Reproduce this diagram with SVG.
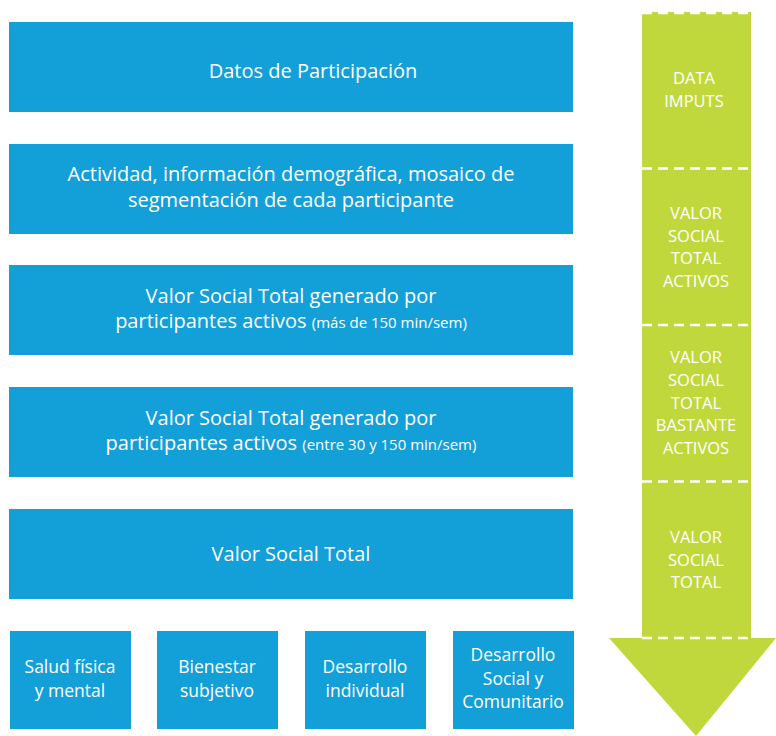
<svg xmlns="http://www.w3.org/2000/svg" width="776" height="736" viewBox="0 0 776 736">
<style>
.box{fill:#139fd8}
.t{fill:#ffffff;font-family:"Open Sans","Liberation Sans",sans-serif;text-anchor:middle}
.m{font-size:20px}
.s{font-size:15px}
.b{font-size:17.5px}
.g{font-size:16.5px}
.dash{stroke:#ffffff;stroke-width:2.5;stroke-dasharray:10 6;fill:none}
</style>
<g id="arrow">
<rect x="642" y="12" width="109" height="627" fill="#c0d83c"/>
<polygon points="609,638 776,638 696,736" fill="#c0d83c"/>
<line class="dash" x1="642" y1="13" x2="751" y2="13"/>
<line class="dash" x1="642" y1="168.5" x2="751" y2="168.5"/>
<line class="dash" x1="642" y1="325" x2="751" y2="325"/>
<line class="dash" x1="642" y1="481.5" x2="751" y2="481.5"/>
<line class="dash" x1="642" y1="638" x2="751" y2="638"/>
<text class="t g" x="694" y="84">DATA</text>
<text class="t g" x="694" y="107">IMPUTS</text>
<text class="t g" x="696" y="219">VALOR</text>
<text class="t g" x="696" y="242">SOCIAL</text>
<text class="t g" x="696" y="264">TOTAL</text>
<text class="t g" x="696" y="287">ACTIVOS</text>
<text class="t g" x="696" y="363">VALOR</text>
<text class="t g" x="696" y="386">SOCIAL</text>
<text class="t g" x="696" y="409">TOTAL</text>
<text class="t g" x="696" y="431">BASTANTE</text>
<text class="t g" x="696" y="454">ACTIVOS</text>
<text class="t g" x="696" y="543">VALOR</text>
<text class="t g" x="696" y="566">SOCIAL</text>
<text class="t g" x="696" y="588">TOTAL</text>
</g>
<g id="n1">
<rect class="box" x="9" y="22" width="564" height="90"/>
<text class="t m" x="313" y="78">Datos de Participación</text>
</g>
<g id="n2">
<rect class="box" x="9" y="144" width="564" height="90"/>
<text class="t m" x="291" y="181">Actividad, información demográfica, mosaico de</text>
<text class="t m" x="291" y="207">segmentación de cada participante</text>
</g>
<g id="n3">
<rect class="box" x="9" y="265" width="564" height="90"/>
<text class="t m" x="291" y="303">Valor Social Total generado por</text>
<text class="t" x="291" y="328"><tspan class="m">participantes activos </tspan><tspan class="s">(más de 150 min/sem)</tspan></text>
</g>
<g id="n4">
<rect class="box" x="9" y="387" width="564" height="90"/>
<text class="t m" x="291" y="425">Valor Social Total generado por</text>
<text class="t" x="291" y="450"><tspan class="m">participantes activos </tspan><tspan class="s">(entre 30 y 150 min/sem)</tspan></text>
</g>
<g id="n5">
<rect class="box" x="9" y="509" width="564" height="90"/>
<text class="t m" x="291" y="561">Valor Social Total</text>
</g>
<g id="b1">
<rect class="box" x="10" y="631" width="121" height="98"/>
<text class="t b" x="70" y="673">Salud física</text>
<text class="t b" x="70" y="697">y mental</text>
</g>
<g id="b2">
<rect class="box" x="157" y="631" width="121" height="98"/>
<text class="t b" x="217" y="673">Bienestar</text>
<text class="t b" x="217" y="697">subjetivo</text>
</g>
<g id="b3">
<rect class="box" x="305" y="631" width="121" height="98"/>
<text class="t b" x="365" y="673">Desarrollo</text>
<text class="t b" x="365" y="697">individual</text>
</g>
<g id="b4">
<rect class="box" x="453" y="631" width="121" height="98"/>
<text class="t b" x="513" y="661">Desarrollo</text>
<text class="t b" x="513" y="685">Social y</text>
<text class="t b" x="513" y="708">Comunitario</text>
</g>
<g id="connectors"></g>
</svg>
